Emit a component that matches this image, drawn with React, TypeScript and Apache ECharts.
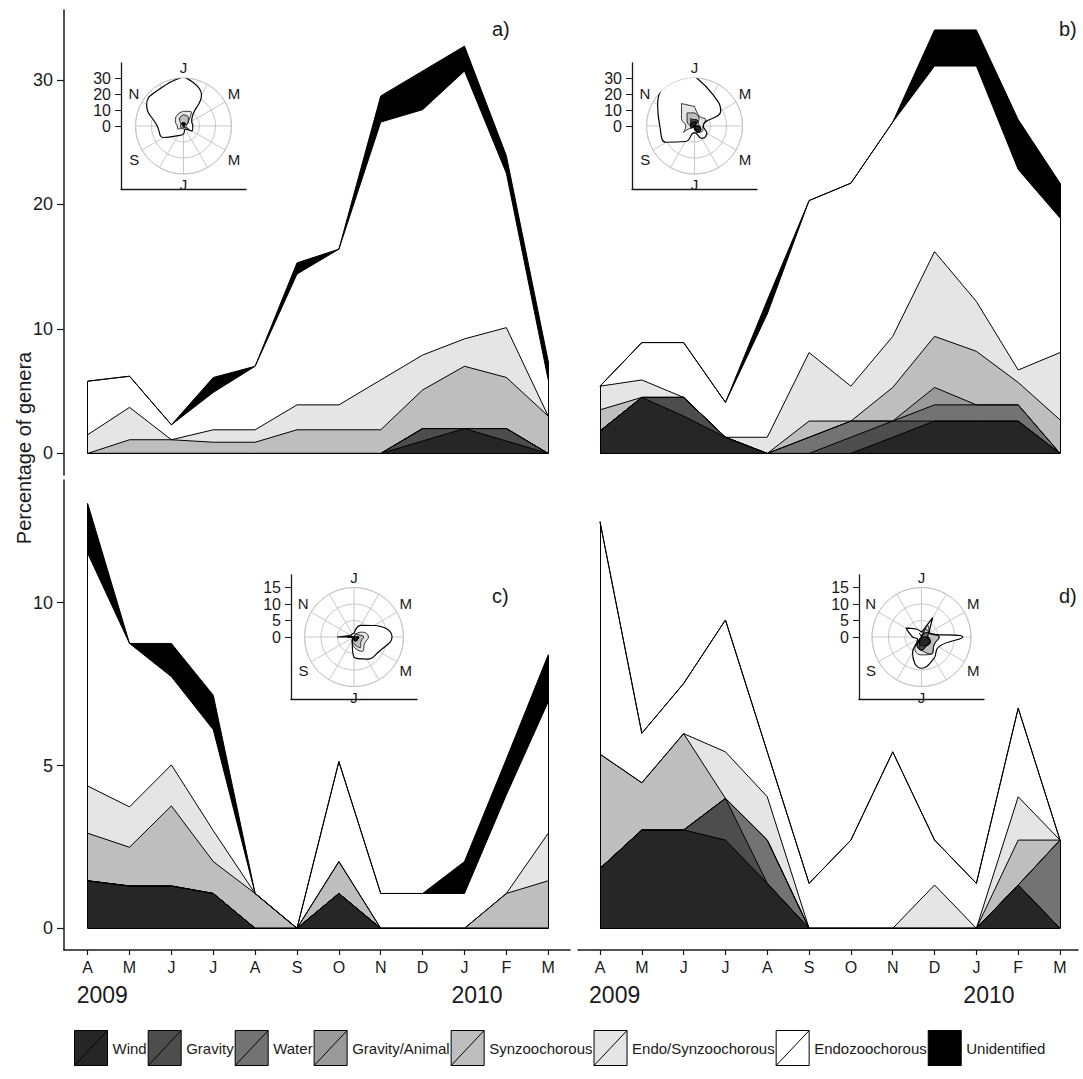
import React, { useEffect, useRef } from 'react';
import * as echarts from 'echarts';

// Month ticks along the shared x axis, April 2009 to March 2010
const months = ['A', 'M', 'J', 'J', 'A', 'S', 'O', 'N', 'D', 'J', 'F', 'M'];
const years = ['2009', '2010'];
// Month initials around the rose insets, January at the top, clockwise
const compassMonths = ['J', 'F', 'M', 'A', 'M', 'J', 'J', 'A', 'S', 'O', 'N', 'D'];

const categories = [
  'Wind',
  'Gravity',
  'Water',
  'Gravity/Animal',
  'Synzoochorous',
  'Endo/Synzoochorous',
  'Endozoochorous',
  'Unidentified',
];
const fills = ['#262626', '#4d4d4d', '#737373', '#9a9a9a', '#bebebe', '#e5e5e5', '#ffffff', '#000000'];

// a) percentage of genera per dispersal syndrome
const windA = [0, 0, 0, 0, 0, 0, 0, 0, 1.0, 2.0, 1.0, 0];
const gravityA = [0, 0, 0, 0, 0, 0, 0, 0, 1.0, 0, 1.0, 0];
const waterA = [0, 0, 0, 0, 0, 0, 0, 0, 0, 0, 0, 0];
const gravAnimalA = [0, 0, 0, 0, 0, 0, 0, 0, 0, 0, 0, 0];
const synA = [0, 1.1, 1.1, 0.9, 0.9, 1.9, 1.9, 1.9, 3.1, 5.0, 4.1, 3.0];
const endoSynA = [1.5, 2.6, 0, 1.0, 1.0, 2.0, 2.0, 4.0, 2.8, 2.2, 4.0, 0];
const endoA = [4.3, 2.5, 1.2, 3.0, 5.1, 10.5, 12.5, 20.7, 19.7, 21.5, 12.4, 2.9];
const unidA = [0, 0, 0, 1.2, 0, 0.9, 0, 2.1, 3.1, 2.0, 1.4, 1.5];

// b)
const windB = [1.8, 4.5, 3.0, 1.3, 0, 0, 0, 1.3, 2.6, 2.6, 2.6, 0];
const gravityB = [0, 0, 1.5, 0, 0, 0, 1.3, 1.3, 0, 0, 0, 0];
const waterB = [0, 0, 0, 0, 0, 1.3, 1.3, 0, 1.3, 1.3, 1.3, 0];
const gravAnimalB = [0, 0, 0, 0, 0, 0, 0, 0, 1.4, 0, 0, 0];
const synB = [1.7, 0, 0, 0, 0, 1.3, 0, 2.7, 4.1, 4.3, 1.8, 2.7];
const endoSynB = [1.9, 1.4, 0, 0, 1.3, 5.5, 2.8, 4.1, 6.8, 4.0, 1.0, 5.4];
const endoB = [0, 3.0, 4.4, 2.8, 9.9, 12.2, 16.3, 17.2, 14.9, 18.9, 16.1, 10.8];
const unidB = [0, 0, 0, 0, 1.1, 0, 0, 0, 2.9, 2.9, 4.0, 2.8];

// c)
const windC = [1.46, 1.3, 1.3, 1.07, 0, 0, 1.07, 0, 0, 0, 0, 0];
const gravityC = [0, 0, 0, 0, 0, 0, 0, 0, 0, 0, 0, 0];
const waterC = [0, 0, 0, 0, 0, 0, 0, 0, 0, 0, 0, 0];
const gravAnimalC = [0, 0, 0, 0, 0, 0, 0, 0, 0, 0, 0, 0];
const synC = [1.46, 1.19, 2.46, 0.98, 1.07, 0, 0.98, 0, 0, 0, 1.07, 1.46];
const endoSynC = [1.45, 1.24, 1.26, 0.95, 0, 0, 0, 0, 0, 0, 0, 1.46];
const endoC = [7.15, 5.02, 2.71, 3.1, 0, 0, 3.07, 1.07, 1.07, 1.07, 3.03, 4.04];
const unidC = [1.53, 0, 1.02, 1.06, 0, 0, 0, 0, 0, 0.98, 1.1, 1.44];

// d)
const windD = [1.84, 3.02, 3.02, 2.71, 1.38, 0, 0, 0, 0, 0, 1.33, 0];
const gravityD = [0, 0, 0, 1.28, 0, 0, 0, 0, 0, 0, 0, 0];
const waterD = [0, 0, 0, 0, 1.33, 0, 0, 0, 0, 0, 0, 2.71];
const gravAnimalD = [0, 0, 0, 0, 0, 0, 0, 0, 0, 0, 0, 0];
const synD = [3.51, 1.45, 2.96, 0, 0, 0, 0, 0, 0, 0, 1.38, 0];
const endoSynD = [0, 0, 0, 1.43, 1.33, 0, 0, 0, 1.33, 0, 1.33, 0];
const endoD = [7.14, 1.52, 1.54, 4.05, 1.38, 1.38, 2.71, 5.42, 1.38, 1.38, 2.72, 0];
const unidD = [0, 0, 0, 0, 0, 0, 0, 0, 0, 0, 0, 0];

const FONT = '"Liberation Sans", Arial, sans-serif';
const INK = '#1a1a1a';
const GRID_GREY = '#c8c8c8';

type Panel = {
  label: string;
  labelAt: [number, number];
  layers: number[][];
  grid: { left: number; top: number; width: number; height: number };
  xRange: [number, number];
  yRange: [number, number];
  yTicks: number[];
  showY: boolean;
  showX: boolean;
  inset: {
    box: { left: number; top: number; width: number; height: number };
    center: [number, number];
    radius: number;
    rMax: number;
    rStep: number;
    yExtent: number;
    ticks: number[];
  };
};

const topInset = { rMax: 30, rStep: 10, radius: 48, yExtent: 39.4, ticks: [0, 10, 20, 30] };
const bottomInset = { rMax: 15, rStep: 5, radius: 49.5, yExtent: 18.8, ticks: [0, 5, 10, 15] };

const panels: Panel[] = [
  {
    label: 'a)',
    labelAt: [501, 30],
    layers: [windA, gravityA, waterA, gravAnimalA, synA, endoSynA, endoA, unidA],
    grid: { left: 64, top: 10, width: 506, height: 465 },
    xRange: [-0.565, 11.52],
    yRange: [-1.73, 35.6],
    yTicks: [0, 10, 20, 30],
    showY: true,
    showX: false,
    inset: { box: { left: 121, top: 63, width: 125, height: 126 }, center: [183.5, 126], ...topInset },
  },
  {
    label: 'b)',
    labelAt: [1068, 30],
    layers: [windB, gravityB, waterB, gravAnimalB, synB, endoSynB, endoB, unidB],
    grid: { left: 578, top: 10, width: 500, height: 465 },
    xRange: [-0.526, 11.43],
    yRange: [-1.73, 35.6],
    yTicks: [],
    showY: false,
    showX: false,
    inset: { box: { left: 632, top: 63, width: 125, height: 126 }, center: [694.5, 126], ...topInset },
  },
  {
    label: 'c)',
    labelAt: [501, 597],
    layers: [windC, gravityC, waterC, gravAnimalC, synC, endoSynC, endoC, unidC],
    grid: { left: 64, top: 480, width: 506, height: 470 },
    xRange: [-0.565, 11.52],
    yRange: [-0.666, 13.77],
    yTicks: [0, 5, 10],
    showY: true,
    showX: true,
    inset: { box: { left: 291, top: 575, width: 126, height: 124 }, center: [354, 637], ...bottomInset },
  },
  {
    label: 'd)',
    labelAt: [1068, 597],
    layers: [windD, gravityD, waterD, gravAnimalD, synD, endoSynD, endoD, unidD],
    grid: { left: 578, top: 480, width: 500, height: 470 },
    xRange: [-0.526, 11.43],
    yRange: [-0.666, 13.77],
    yTicks: [],
    showY: false,
    showX: true,
    inset: { box: { left: 859, top: 575, width: 125, height: 124 }, center: [921.5, 637], ...bottomInset },
  },
];

const monthIdx = months.map((_, i) => i);

// running sum of the layers 0..upto, month by month
function cumulativeUpTo(layers: number[][], upto: number): number[] {
  return layers[0].map((_, j) => {
    let s = 0;
    for (let k = 0; k <= upto; k++) s += layers[k][j];
    return +s.toFixed(4);
  });
}

function buildOption() {
  const grid: any[] = [];
  const xAxis: any[] = [];
  const yAxis: any[] = [];
  const polar: any[] = [];
  const angleAxis: any[] = [];
  const radiusAxis: any[] = [];
  const series: any[] = [];
  const graphic: any[] = [];

  const mainX: number[] = [];
  const mainY: number[] = [];

  // main stacked-area panels
  panels.forEach((p, i) => {
    grid.push({ ...p.grid, containLabel: false });
    mainX.push(xAxis.length);
    xAxis.push({
      type: 'value',
      gridIndex: i,
      min: p.xRange[0],
      max: p.xRange[1],
      show: p.showX,
      position: 'bottom',
      splitLine: { show: false },
      axisLine: { show: true, onZero: false, lineStyle: { color: INK, width: 1.5 } },
      axisTick: { show: true, customValues: monthIdx, length: 5, lineStyle: { color: INK, width: 1.2 } },
      axisLabel: {
        show: true,
        customValues: monthIdx,
        formatter: (v: number) => months[Math.round(v)] ?? '',
        margin: 9,
        fontFamily: FONT,
        fontSize: 16,
        color: INK,
      },
    });
    if (p.showX) {
      xAxis.push({
        type: 'value',
        gridIndex: i,
        min: p.xRange[0],
        max: p.xRange[1],
        position: 'bottom',
        splitLine: { show: false },
        axisLine: { show: false, onZero: false },
        axisTick: { show: false },
        axisLabel: {
          show: true,
          customValues: [0.35, 9.3],
          formatter: (v: number) => (v < 5 ? years[0] : years[1]),
          margin: 33,
          fontFamily: FONT,
          fontSize: 23,
          color: INK,
        },
      });
    }
    mainY.push(yAxis.length);
    yAxis.push({
      type: 'value',
      gridIndex: i,
      min: p.yRange[0],
      max: p.yRange[1],
      show: p.showY,
      splitLine: { show: false },
      axisLine: { show: true, onZero: false, lineStyle: { color: INK, width: 1.5 } },
      axisTick: { show: true, customValues: p.yTicks, length: 7, lineStyle: { color: INK, width: 1.2 } },
      axisLabel: {
        show: true,
        customValues: p.yTicks,
        margin: 11,
        fontFamily: FONT,
        fontSize: 18,
        color: INK,
      },
    });
  });

  // filled layers: each cumulative top filled down to zero, uppermost layer first
  panels.forEach((p, i) => {
    for (let c = p.layers.length - 1; c >= 0; c--) {
      const cum = cumulativeUpTo(p.layers, c);
      series.push({
        type: 'line',
        name: categories[c],
        xAxisIndex: mainX[i],
        yAxisIndex: mainY[i],
        data: cum.map((v, j) => [j, v]),
        color: fills[c],
        symbol: 'none',
        lineStyle: { width: 0, opacity: 0 },
        areaStyle: { color: fills[c], opacity: 1, origin: 'auto' },
        silent: true,
        z: 2,
      });
    }
  });

  // layer boundaries drawn over the fills
  panels.forEach((p, i) => {
    const total = cumulativeUpTo(p.layers, p.layers.length - 1);
    const last = total.length - 1;
    p.layers.forEach((_, c) => {
      const cum = cumulativeUpTo(p.layers, c);
      const s: any = {
        type: 'line',
        id: `outline-${i}-${c}`,
        xAxisIndex: mainX[i],
        yAxisIndex: mainY[i],
        data: cum.map((v, j) => [j, v]),
        symbol: 'none',
        lineStyle: { color: '#000', width: 1 },
        silent: true,
        z: 3,
      };
      if (c === p.layers.length - 1) {
        s.markLine = {
          silent: true,
          symbol: ['none', 'none'],
          label: { show: false },
          lineStyle: { color: '#000', width: 1, type: 'solid' },
          data: [
            [{ coord: [0, 0] }, { coord: [0, total[0]] }],
            [{ coord: [last, 0] }, { coord: [last, total[last]] }],
            [{ coord: [0, 0] }, { coord: [last, 0] }],
          ],
        };
      }
      series.push(s);
    });
  });

  // rose insets: cumulative layers on a month compass
  panels.forEach((p, i) => {
    const ins = p.inset;
    const gi = grid.length;
    grid.push({ ...ins.box, containLabel: false });
    xAxis.push({
      type: 'value',
      gridIndex: gi,
      min: 0,
      max: 1,
      splitLine: { show: false },
      axisLine: { show: true, onZero: false, lineStyle: { color: INK, width: 1.3 } },
      axisTick: { show: false },
      axisLabel: { show: false },
    });
    yAxis.push({
      type: 'value',
      gridIndex: gi,
      min: -ins.yExtent,
      max: ins.yExtent,
      splitLine: { show: false },
      axisLine: { show: true, onZero: false, lineStyle: { color: INK, width: 1.3 } },
      axisTick: { show: true, customValues: ins.ticks, length: 6, lineStyle: { color: INK } },
      axisLabel: {
        show: true,
        customValues: ins.ticks,
        margin: 10,
        fontFamily: FONT,
        fontSize: 16,
        color: INK,
      },
    });

    polar.push({ center: ins.center, radius: ins.radius });
    angleAxis.push({
      polarIndex: i,
      type: 'value',
      min: 0,
      max: 12,
      interval: 1,
      startAngle: 90,
      clockwise: true,
      axisLine: { show: true, lineStyle: { color: GRID_GREY, width: 1 } },
      axisTick: { show: false },
      splitLine: { show: true, lineStyle: { color: GRID_GREY, width: 1 } },
      axisLabel: {
        show: true,
        margin: 3,
        fontFamily: FONT,
        fontSize: 15,
        color: INK,
        formatter: (v: number) => (v < 12 && v % 2 === 0 ? compassMonths[v] : ''),
      },
    });
    radiusAxis.push({
      polarIndex: i,
      type: 'value',
      min: 0,
      max: ins.rMax,
      interval: ins.rStep,
      axisLine: { show: false },
      axisTick: { show: false },
      axisLabel: { show: false },
      splitLine: { show: true, lineStyle: { color: GRID_GREY, width: 1 } },
    });

    // outermost (Endozoochorous) down to Wind
    for (let c = 6; c >= 0; c--) {
      const cum = cumulativeUpTo(p.layers, c);
      const data: number[][] = [];
      for (let k = 0; k <= 12; k++) {
        const j = (((k % 12) - 3) + 12) % 12;
        data.push([cum[j], k]);
      }
      series.push({
        type: 'line',
        id: `rose-${i}-${c}`,
        coordinateSystem: 'polar',
        polarIndex: i,
        data,
        smooth: 0.5,
        symbol: 'none',
        color: fills[c],
        lineStyle: { color: '#000', width: c === 6 ? 1.2 : 0.8 },
        areaStyle: { color: fills[c], opacity: 1 },
        silent: true,
        z: 6,
      });
    }

    graphic.push({
      type: 'text',
      left: p.labelAt[0] - 9,
      top: p.labelAt[1] - 11,
      style: { text: p.label, font: `20px ${FONT}`, fill: INK },
      z: 10,
    });
  });

  graphic.push({
    type: 'text',
    x: 24,
    y: 448,
    rotation: Math.PI / 2,
    style: {
      text: 'Percentage of genera',
      font: `20px ${FONT}`,
      fill: INK,
      align: 'center',
      verticalAlign: 'middle',
    },
    z: 10,
  });

  return {
    animation: false,
    backgroundColor: '#ffffff',
    grid,
    xAxis,
    yAxis,
    polar,
    angleAxis,
    radiusAxis,
    legend: {
      data: categories,
      left: 74,
      top: 1030,
      padding: 0,
      orient: 'horizontal',
      itemWidth: 33,
      itemHeight: 35,
      itemGap: 1,
      icon: 'path://M0,0H33V35H0ZM0,35L33,0',
      itemStyle: { borderColor: '#000', borderWidth: 1 },
      textStyle: { fontFamily: FONT, fontSize: 15, color: INK },
      selectedMode: false,
    },
    series,
    graphic,
  };
}

export default function App() {
  const ref = useRef<HTMLDivElement>(null);
  useEffect(() => {
    if (!ref.current) return;
    const chart = echarts.init(ref.current, undefined, { renderer: 'svg' });
    chart.setOption(buildOption() as any);
    return () => chart.dispose();
  }, []);
  return (
    <div
      ref={ref}
      style={{ position: 'absolute', left: 0, top: 0, width: 1083, height: 1079, background: '#fff' }}
    />
  );
}
